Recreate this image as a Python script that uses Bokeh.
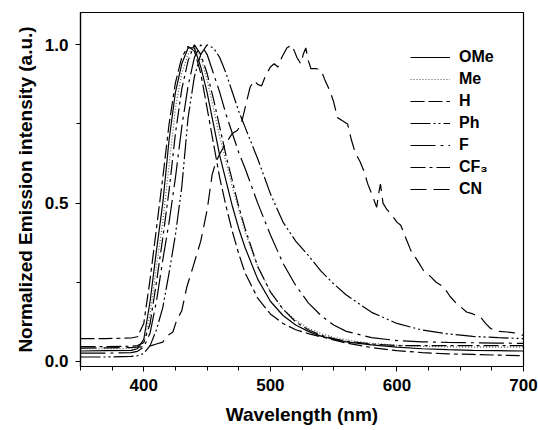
from bokeh.plotting import figure
from bokeh.models import FixedTicker, Legend, LegendItem
from bokeh.embed import file_html
from bokeh.resources import INLINE

# ---- data ----
wl = [350, 370, 390, 395, 400, 405, 410, 415, 420, 425,
      430, 435, 440, 445, 450, 455, 460, 465, 470, 475,
      480, 490, 500, 510, 520, 530, 540, 550, 560, 580,
      600, 620, 640, 660, 680, 700]

ome = [0.033, 0.034, 0.035, 0.04, 0.07, 0.19, 0.35, 0.5, 0.7, 0.85,
       0.94, 0.99, 0.99, 0.93, 0.85, 0.75, 0.65, 0.57, 0.49, 0.42,
       0.36, 0.26, 0.19, 0.145, 0.115, 0.095, 0.08, 0.07, 0.062, 0.052,
       0.045, 0.04, 0.037, 0.035, 0.034, 0.033]
me = [0.04, 0.04, 0.041, 0.045, 0.06, 0.15, 0.3, 0.44, 0.62, 0.8,
      0.91, 0.97, 1.0, 0.96, 0.89, 0.8, 0.71, 0.63, 0.55, 0.48,
      0.41, 0.3, 0.22, 0.165, 0.13, 0.105, 0.088, 0.076, 0.068, 0.057,
      0.051, 0.048, 0.046, 0.045, 0.045, 0.045]
h = [0.072, 0.072, 0.074, 0.078, 0.12, 0.26, 0.42, 0.58, 0.75, 0.88,
     0.96, 0.995, 0.98, 0.91, 0.8, 0.69, 0.58, 0.49, 0.41, 0.34,
     0.28, 0.2, 0.15, 0.12, 0.1, 0.088, 0.078, 0.068, 0.058, 0.044,
     0.034, 0.028, 0.024, 0.022, 0.02, 0.018]
ph = [0.014, 0.014, 0.016, 0.018, 0.025, 0.05, 0.1, 0.17, 0.28, 0.4,
      0.55, 0.77, 0.9, 0.97, 1.0, 0.99, 0.96, 0.91, 0.85, 0.79,
      0.74, 0.64, 0.53, 0.44, 0.38, 0.335, 0.285, 0.245, 0.21, 0.155,
      0.12, 0.099, 0.087, 0.079, 0.075, 0.072]
f = [0.026, 0.026, 0.028, 0.032, 0.045, 0.09, 0.19, 0.32, 0.44, 0.58,
     0.74, 0.87, 0.96, 1.0, 0.97, 0.91, 0.85, 0.78, 0.72, 0.66,
     0.61, 0.5, 0.40, 0.31, 0.24, 0.185, 0.145, 0.115, 0.095, 0.075,
     0.066, 0.062, 0.06, 0.059, 0.058, 0.057]
cf3 = [0.047, 0.047, 0.048, 0.05, 0.06, 0.12, 0.25, 0.39, 0.54, 0.72,
       0.86, 0.95, 1.0, 0.97, 0.91, 0.83, 0.74, 0.65, 0.57, 0.49,
       0.42, 0.3, 0.22, 0.165, 0.125, 0.1, 0.083, 0.072, 0.064, 0.055,
       0.05, 0.05, 0.05, 0.05, 0.05, 0.05]

cn_wl = [350, 370, 390, 400, 406, 410, 415, 419, 423, 426, 430, 434, 439, 445,
         450, 454, 457, 460, 465, 470, 474, 477, 480, 484, 487, 490, 493, 496,
         500, 503, 506, 509, 513, 517, 519, 521, 524, 526, 528, 530, 532, 536,
         540, 543, 547, 550, 553, 557, 561, 564, 567, 571, 574, 577, 580, 584,
         586, 587, 589, 592, 595, 600, 603, 607, 611, 616, 621, 626, 631, 637,
         642, 647, 651, 655, 660, 666, 670, 674, 680, 687, 693, 700]
cn = [0.042, 0.043, 0.044, 0.046, 0.05, 0.055, 0.061, 0.082, 0.093, 0.13, 0.16, 0.235, 0.30, 0.38,
      0.477, 0.59, 0.63, 0.655, 0.69, 0.72, 0.73, 0.75, 0.80, 0.866, 0.887, 0.875, 0.87, 0.90,
      0.93, 0.94, 0.93, 0.96, 0.99, 1.0, 0.98, 0.96, 0.94, 0.97, 0.99, 0.95, 0.925, 0.925,
      0.92, 0.89, 0.855, 0.82, 0.77, 0.76, 0.75, 0.70, 0.66, 0.63, 0.60, 0.56, 0.53, 0.487,
      0.54, 0.56, 0.50, 0.48, 0.467, 0.44, 0.43, 0.39, 0.35, 0.32, 0.287, 0.27, 0.25, 0.235,
      0.205, 0.183, 0.17, 0.156, 0.15, 0.14, 0.12, 0.104, 0.095, 0.093, 0.09, 0.082]

series_names = ["OMe", "Me", "H", "Ph", "F", "CF\u2083", "CN"]
x_ticks = [400, 500, 600, 700]
x_minor = [350, 375, 425, 450, 475, 525, 550, 575, 625, 650, 675]
y_ticks = [0.0, 0.5, 1.0]
y_minor = [0.25, 0.75]

FONT = "Liberation Sans"

p = figure(width=538, height=430, x_range=(350, 700), y_range=(-0.016, 1.102),
           output_backend="svg", toolbar_location=None,
           min_border_left=80, min_border_right=15, min_border_top=12, min_border_bottom=64)
p.xgrid.visible = False
p.ygrid.visible = False
p.outline_line_color = "black"
p.outline_line_width = 1.2
p.background_fill_color = "white"

styles = [
    (wl, ome, "black", 1.2, "solid"),
    (wl, me, "#555555", 1.2, "1 2"),
    (wl, h, "black", 1.2, "14 4 14 4 4 4"),
    (wl, ph, "black", 1.2, "20 3 2 3 2 3"),
    (wl, f, "black", 1.2, "25 5 3 5"),
    (wl, cf3, "black", 1.2, "15 4 3 4"),
    (cn_wl, cn, "black", 1.2, "16 7"),
]
renderers = []
for xs, ys, col, lw, dash in styles:
    r = p.line(xs, ys, line_color=col, line_width=lw, line_dash=dash)
    renderers.append(r)

items = [LegendItem(label=n, renderers=[r]) for n, r in zip(series_names, renderers)]
legend = Legend(items=items, location=(330, 166), border_line_color=None,
                background_fill_alpha=0, padding=0, margin=0, spacing=0,
                glyph_width=40, glyph_height=22, label_height=22, label_standoff=9,
                label_text_font=FONT, label_text_font_style="bold",
                label_text_font_size="16px", label_text_color="black")
p.add_layout(legend)

p.xaxis.ticker = FixedTicker(ticks=x_ticks, minor_ticks=x_minor)
p.yaxis.ticker = FixedTicker(ticks=y_ticks, minor_ticks=y_minor)
p.yaxis.major_label_overrides = {0.0: "0.0", 0.5: "0.5", 1.0: "1.0"}
p.xaxis.axis_label = "Wavelength (nm)"
p.yaxis.axis_label = "Normalized Emission intensity (a.u.)"

for ax in (p.xaxis[0], p.yaxis[0]):
    ax.axis_line_color = "black"
    ax.axis_line_width = 1.2
    ax.major_tick_in = 0
    ax.major_tick_out = 5
    ax.minor_tick_in = 0
    ax.minor_tick_out = 4
    ax.major_tick_line_color = "black"
    ax.minor_tick_line_color = "black"
    ax.major_label_text_font = FONT
    ax.major_label_text_font_style = "bold"
    ax.major_label_text_font_size = "17px"
    ax.major_label_text_color = "black"
    ax.axis_label_text_font = FONT
    ax.axis_label_text_font_style = "bold"
    ax.axis_label_text_font_size = "19px"
    ax.axis_label_text_color = "black"
    ax.major_label_standoff = 7

p.xaxis.axis_label_standoff = 10
p.yaxis.axis_label_standoff = 6

open("out.html", "w").write(file_html(p, INLINE))
